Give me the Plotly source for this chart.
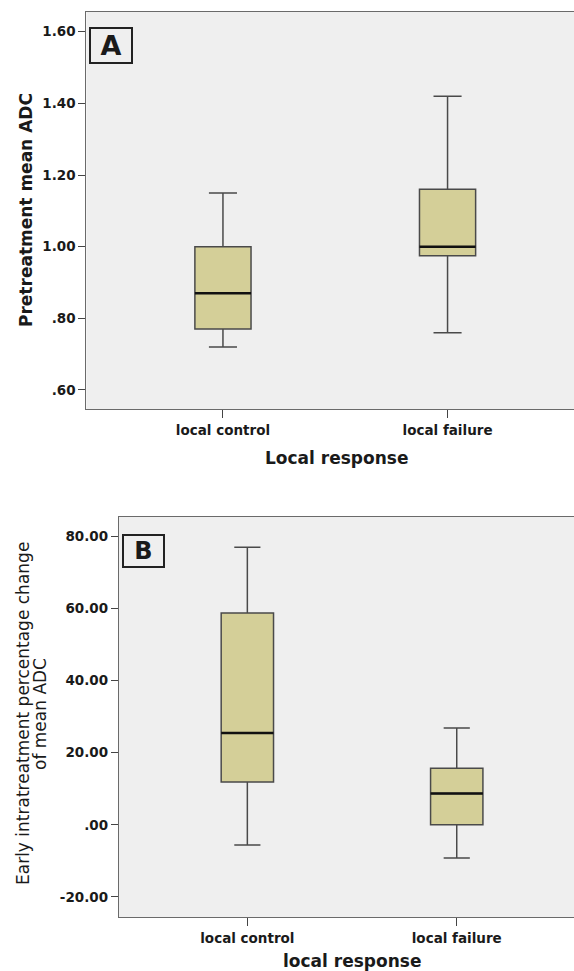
import plotly.graph_objects as go

# ---- data ----
categories = ["local control", "local failure"]

# Panel A: Pretreatment mean ADC
a_lower = [0.72, 0.76]
a_q1 = [0.77, 0.975]
a_median = [0.87, 1.00]
a_q3 = [1.00, 1.16]
a_upper = [1.15, 1.42]
a_tickvals = [0.60, 0.80, 1.00, 1.20, 1.40, 1.60]
a_ticktext = [".60", ".80", "1.00", "1.20", "1.40", "1.60"]

# Panel B: Early intratreatment percentage change of mean ADC
b_lower = [-5.6, -9.2]
b_q1 = [11.9, 0.0]
b_median = [25.5, 8.7]
b_q3 = [58.8, 15.7]
b_upper = [77.1, 26.9]
b_tickvals = [-20, 0, 20, 40, 60, 80]
b_ticktext = ["-20.00", ".00", "20.00", "40.00", "60.00", "80.00"]

W, H = 574, 971
FONT = "DejaVu Sans"
BOX_W = 0.25
FILL = "#d4cf98"
PLOT_BG = "#efefef"
FRAME = "#6a6a6a"

fig = go.Figure()

xpos = list(range(len(categories)))

def bold(lst):
    return [f"<b>{t}</b>" for t in lst]

def add_panel(xaxis, yaxis, lower, q1, med, q3, upper):
    fig.add_trace(go.Box(
        x=xpos, lowerfence=lower, q1=q1, median=med, q3=q3, upperfence=upper,
        width=BOX_W, whiskerwidth=0.5,
        fillcolor=FILL, line=dict(color="#4a4a4a", width=1.5),
        boxpoints=False, showlegend=False, hoverinfo="skip",
        xaxis=xaxis, yaxis=yaxis,
    ))
    for i, m in enumerate(med):
        fig.add_trace(go.Scatter(
            x=[xpos[i] - BOX_W / 2, xpos[i] + BOX_W / 2], y=[m, m],
            mode="lines", line=dict(color="#111111", width=2.6),
            showlegend=False, hoverinfo="skip", xaxis=xaxis, yaxis=yaxis,
        ))

add_panel("x", "y", a_lower, a_q1, a_median, a_q3, a_upper)
add_panel("x2", "y2", b_lower, b_q1, b_median, b_q3, b_upper)

tickfont = dict(family=FONT, size=13.5, color="#1a1a1a")
xcommon = dict(
    tickmode="array", tickvals=xpos, ticktext=bold(categories),
    showline=True, mirror=True, linecolor=FRAME, linewidth=1.3,
    ticks="outside", ticklen=8, tickcolor="#444", tickwidth=1,
    showgrid=False, zeroline=False, tickfont=tickfont,
)
ycommon = dict(
    tickmode="array", showline=True, mirror=False, linecolor=FRAME, linewidth=1.3,
    ticks="outside", ticklen=7, tickcolor="#444", tickwidth=1,
    showgrid=False, zeroline=False, tickfont=tickfont,
)

fig.update_layout(
    width=W, height=H,
    margin=dict(l=0, r=0, t=0, b=0),
    paper_bgcolor="white", plot_bgcolor=PLOT_BG,
    font=dict(family=FONT, color="#1a1a1a"),
    xaxis=dict(domain=[86.4 / W, 1.0], range=[-0.608, 1.563], anchor="y", **xcommon),
    yaxis=dict(domain=[1 - 409.3 / H, 1 - 11.7 / H], range=[0.546, 1.656],
               tickvals=a_tickvals, ticktext=bold(a_ticktext), anchor="x", **ycommon),
    xaxis2=dict(domain=[119 / W, 1.0], range=[-0.613, 1.56], anchor="y2", **xcommon),
    yaxis2=dict(domain=[1 - 917.3 / H, 1 - 516.7 / H], range=[-25.7, 85.56],
                tickvals=b_tickvals, ticktext=bold(b_ticktext), anchor="x2", **ycommon),
)

def px(x):
    return x / W

def py(y):
    return 1 - y / H

annots = [
    # axis titles
    dict(text="<b>Pretreatment mean ADC</b>", x=px(25.5), y=py(210.5), textangle=-90,
         font=dict(size=17)),
    dict(text="<b>Local response</b>", x=px(336), y=py(458), font=dict(size=17)),
    dict(text="Early intratreatment percentage change", x=px(23), y=py(714),
         textangle=-90, font=dict(size=17)),
    dict(text="of mean ADC", x=px(40), y=py(714),
         textangle=-90, font=dict(size=17)),
    dict(text="<b>local response</b>", x=px(352), y=py(961), font=dict(size=17)),
    # panel letters
    dict(text="<b>A</b>", x=px(111), y=py(45.3), font=dict(size=27), width=40, height=33,
         bordercolor="#222", borderwidth=2, borderpad=0, bgcolor=PLOT_BG),
    dict(text="<b>B</b>", x=px(143), y=py(551.2), font=dict(size=24), width=39, height=30,
         bordercolor="#222", borderwidth=2, borderpad=0, bgcolor=PLOT_BG),
]
for a in annots:
    a.update(xref="paper", yref="paper", showarrow=False, xanchor="center", yanchor="middle")
    a["font"] = dict(family=FONT, color="#1a1a1a", **a["font"])
    fig.add_annotation(**a)

fig.write_html(
    "out.html",
    config={"displayModeBar": False},
    post_script="document.body.style.margin='0px';document.body.style.overflow='hidden';",
)
